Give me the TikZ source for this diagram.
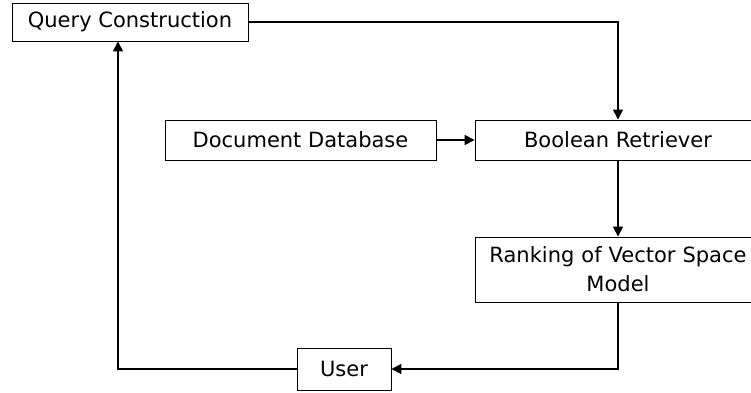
\documentclass[tikz,border=0pt]{standalone}
\usepackage{fontspec}
\setmainfont{DejaVu Sans}
\usetikzlibrary{arrows.meta}

\begin{document}
\begin{tikzpicture}[x=1pt, y=-1pt,
    box/.style={draw, rectangle, line width=0.9pt, inner sep=0pt, align=center, font=\fontsize{21}{29}\selectfont},
    link/.style={line width=1.5pt, -{Triangle[length=10pt,width=10pt]}}]

\useasboundingbox (0,0) rectangle (751,392);
\clip (0,0) rectangle (751,392);

% Boxes
\node[box, minimum width=236pt, minimum height=38pt] (qc) at (130,22) {Query Construction};
\node[box, minimum width=271pt, minimum height=40pt] (docdb) at (300.5,140) {Document Database};
\node[box, minimum width=286pt, minimum height=40pt] (retriever) at (618,140) {Boolean Retriever};
\node[box, text width=286pt, minimum height=65pt] (ranking) at (618,269.5) {Ranking of Vector Space\\Model};
\node[box, minimum width=94pt, minimum height=42pt] (user) at (344,369) {User};

% Connections
\draw[link] (qc.east) -| (retriever.north);
\draw[link] (docdb) -- (retriever);
\draw[link] (retriever) -- (ranking);
\draw[link] (ranking.south) |- (user.east);
\draw[link] (user.west) -| ([xshift=-12pt]qc.south);

\end{tikzpicture}
\end{document}
